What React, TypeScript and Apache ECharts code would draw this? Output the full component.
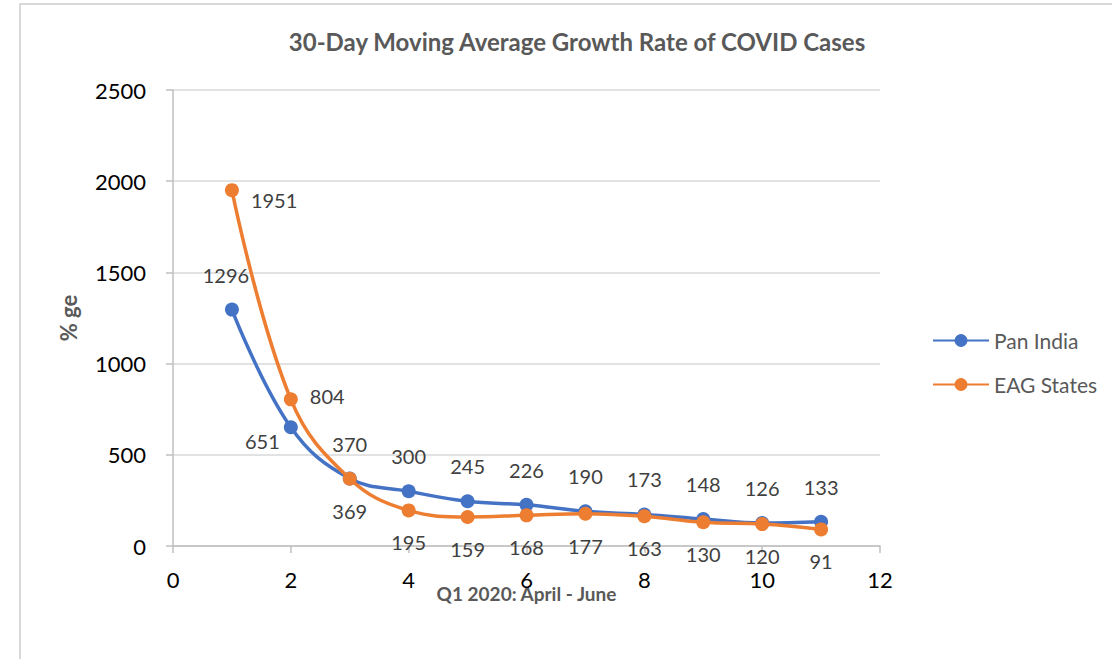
import React, { useEffect, useRef } from "react";
import * as echarts from "echarts";

const xValues = [1, 2, 3, 4, 5, 6, 7, 8, 9, 10, 11];
const panIndia = [1296, 651, 370, 300, 245, 226, 190, 173, 148, 126, 133];
const eagStates = [1951, 804, 369, 195, 159, 168, 177, 163, 130, 120, 91];
const seriesNames = ["Pan India", "EAG States"];
const titleText = "30-Day Moving Average Growth Rate of COVID Cases";
const xAxisName = "Q1 2020: April - June";
const yAxisName = "% ge";

const FONT = "Lato, 'Liberation Sans', sans-serif";

export default function App() {
  const ref = useRef<HTMLDivElement>(null);
  useEffect(() => {
    if (!ref.current) return;
    const chart = echarts.init(ref.current, null, { renderer: "svg" });
    const labelBase = { show: true, fontSize: 20, color: "#404040", fontFamily: FONT };
    const panData = xValues.map((x, i) => {
      const item: any = { value: [x, panIndia[i]] };
      if (i === 0) item.label = { position: "top", distance: 18, offset: [-6, 0] };
      else if (i === 1) item.label = { position: "left", distance: 4, offset: [0, 14] };
      else item.label = { position: "top", distance: 18 };
      return item;
    });
    const eagData = xValues.map((x, i) => {
      const item: any = { value: [x, eagStates[i]] };
      if (i <= 1) item.label = { position: "right", distance: 12, offset: [0, i === 0 ? 10 : -3] };
      else item.label = { position: "bottom", distance: 15 };
      return item;
    });
    chart.setOption({
      animation: false,
      backgroundColor: "#ffffff",
      textStyle: { fontFamily: FONT },
      title: {
        text: titleText,
        left: 572,
        textAlign: "center",
        top: 24,
        textStyle: { fontSize: 24, fontWeight: "bold", color: "#595959", fontFamily: FONT },
      },
      graphic: [
        {
          type: "rect",
          shape: { x: 20, y: 4, width: 1200, height: 800 },
          style: { fill: "none", stroke: "#d9d9d9", lineWidth: 2 },
          silent: true,
        },
      ],
      legend: {
        orient: "vertical",
        left: 927,
        top: 325,
        itemWidth: 56,
        itemHeight: 16,
        itemGap: 23,
        textStyle: { fontSize: 21, color: "#595959", fontFamily: FONT },
        data: seriesNames,
      },
      grid: { left: 173, right: 232, top: 90, bottom: 113 },
      xAxis: {
        type: "value",
        min: 0,
        max: 12,
        interval: 2,
        name: xAxisName,
        nameLocation: "middle",
        nameGap: 38,
        nameMoveOverlap: false,
        nameTextStyle: { fontSize: 19, fontWeight: "bold", color: "#595959", fontFamily: FONT },
        axisLine: { show: true, lineStyle: { color: "#bfbfbf", width: 1.5 } },
        axisTick: { show: true, length: 7, lineStyle: { color: "#bfbfbf", width: 1.5 } },
        axisLabel: { fontSize: 22, color: "#000000", margin: 22, fontFamily: FONT },
        splitLine: { show: false },
      },
      yAxis: {
        type: "value",
        min: 0,
        max: 2500,
        interval: 500,
        name: yAxisName,
        nameLocation: "middle",
        nameGap: 94,
        nameMoveOverlap: false,
        nameRotate: 90,
        nameTextStyle: { fontSize: 22, fontWeight: "bold", color: "#595959", fontFamily: FONT },
        axisLine: { show: true, lineStyle: { color: "#bfbfbf", width: 1.5 } },
        axisTick: { show: true, length: 7, lineStyle: { color: "#bfbfbf", width: 1.5 } },
        axisLabel: {
          fontSize: 22,
          color: "#000000",
          margin: 27,
          fontFamily: FONT,
          formatter: (v: number) => String(v),
        },
        splitLine: { show: true, lineStyle: { color: "#d9d9d9", width: 1.5 } },
      },
      series: [
        {
          name: seriesNames[0],
          type: "line",
          smooth: 0.4,
          data: panData,
          symbol: "circle",
          symbolSize: 14,
          lineStyle: { color: "#4472C4", width: 3.5 },
          itemStyle: { color: "#4472C4" },
          label: labelBase,
          z: 2,
        },
        {
          name: seriesNames[1],
          type: "line",
          smooth: 0.4,
          data: eagData,
          symbol: "circle",
          symbolSize: 14,
          lineStyle: { color: "#ED7D31", width: 3.5 },
          itemStyle: { color: "#ED7D31" },
          label: labelBase,
          z: 3,
        },
      ],
    });
    return () => chart.dispose();
  }, []);
  return (
    <div
      ref={ref}
      style={{ position: "absolute", left: 0, top: 0, width: 1112, height: 659 }}
    />
  );
}
